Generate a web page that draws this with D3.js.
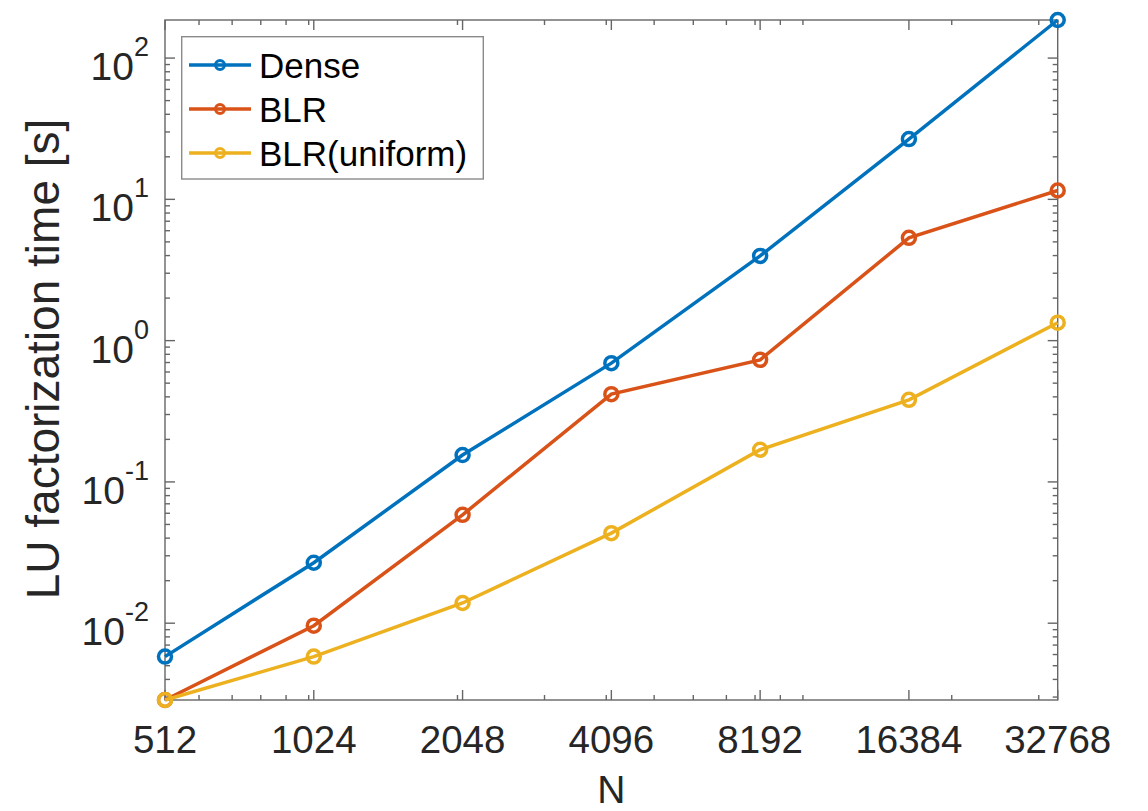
<!DOCTYPE html>
<html>
  <head>
    <script src="https://d3js.org/d3.v7.min.js"></script>
    <style>
      body {margin:0; background:white;}
      text {font-family: "Liberation Sans", Arial, Helvetica, sans-serif;}
    </style>
  </head>
  <body>
    <div id="chart1"></div>
    <script>
      // problem sizes
      var sizes = [512, 1024, 2048, 4096, 8192, 16384, 32768];
      // factorization times [s]
      var dense = [0.0058, 0.0268, 0.155, 0.693, 3.98, 26.7, 186];
      var blr = [0.00286, 0.0096, 0.0585, 0.418, 0.731, 5.34, 11.55];
      var blrUniform = [0.00286, 0.0058, 0.0139, 0.0434, 0.169, 0.381, 1.34];
      var seriesNames = ["Dense", "BLR", "BLR(uniform)"];
      var seriesColors = ["#0072BD", "#D95319", "#EDB120"];
      var yTickValues = [0.01, 0.1, 1, 10, 100];
      var yTickExponents = ["-2", "-1", "0", "1", "2"];

      var allSeries = [dense, blr, blrUniform];

      var W = 1148, H = 811;
      var plotLeft = 165, plotRight = 1057.7, plotTop = 20, plotBottom = 700;
      var axisColor = "#262626";
      var boxColor = "#666666";

      var svg = d3.select("#chart1")
        .append("svg")
          .attr("width", W)
          .attr("height", H)
          .attr("style", "background-color: white;");

      var x = d3.scaleLog().base(2)
        .domain(d3.extent(sizes))
        .range([plotLeft, plotRight]);

      var allValues = [].concat(dense, blr, blrUniform);
      var y = d3.scaleLog()
        .domain(d3.extent(allValues))
        .range([plotBottom, plotTop]);

      // minor ticks (n * 10^k inside the range)
      var xMinor = [];
      [100, 1000, 10000].forEach(function(p){
        for(var n = 1; n < 10; n++){
          var v = n * p;
          if(v > 512 && v < 32768) xMinor.push(v);
        }
      });
      var yMinor = [];
      [0.001, 0.01, 0.1, 1, 10, 100].forEach(function(p){
        for(var n = 2; n < 10; n++){
          var v = n * p;
          if(v > y.domain()[0] && v < y.domain()[1]) yMinor.push(v);
        }
      });

      // box
      svg.append("rect")
        .attr("x", plotLeft)
        .attr("y", plotTop)
        .attr("width", plotRight - plotLeft)
        .attr("height", plotBottom - plotTop)
        .attr("fill", "none")
        .attr("stroke", boxColor)
        .attr("stroke-width", 1.4);

      // ticks, all pointing inward, on all four sides
      var tickG = svg.append("g")
        .attr("stroke", boxColor)
        .attr("stroke-width", 1.4);
      function xTicks(vals, len){
        vals.forEach(function(v){
          tickG.append("line").attr("x1", x(v)).attr("x2", x(v)).attr("y1", plotBottom).attr("y2", plotBottom - len);
          tickG.append("line").attr("x1", x(v)).attr("x2", x(v)).attr("y1", plotTop).attr("y2", plotTop + len);
        });
      }
      function yTicks(vals, len){
        vals.forEach(function(v){
          tickG.append("line").attr("y1", y(v)).attr("y2", y(v)).attr("x1", plotLeft).attr("x2", plotLeft + len);
          tickG.append("line").attr("y1", y(v)).attr("y2", y(v)).attr("x1", plotRight).attr("x2", plotRight - len);
        });
      }
      xTicks(sizes, 10);
      xTicks(xMinor, 5);
      yTicks(yTickValues, 10);
      yTicks(yMinor, 5);

      // x tick labels
      svg.append("g")
        .selectAll("text")
        .data(sizes)
        .enter()
        .append("text")
          .attr("x", function(d){ return x(d); })
          .attr("y", 753)
          .attr("text-anchor", "middle")
          .attr("font-size", 38.5)
          .attr("fill", axisColor)
          .text(function(d){ return d; });

      // y tick labels as 10^k
      var yLab = svg.append("g")
        .selectAll("text")
        .data(yTickValues)
        .enter()
        .append("text")
          .attr("x", 149)
          .attr("y", function(d){ return y(d) + 22; })
          .attr("text-anchor", "end")
          .attr("font-size", 39)
          .attr("fill", axisColor);
      yLab.append("tspan").text("10");
      yLab.append("tspan")
        .attr("font-size", 27)
        .attr("dy", -24)
        .text(function(d, i){ return yTickExponents[i]; });

      // axis titles
      svg.append("text")
        .attr("x", (plotLeft + plotRight) / 2)
        .attr("y", 803)
        .attr("text-anchor", "middle")
        .attr("font-size", 39)
        .attr("fill", axisColor)
        .text("N");
      svg.append("text")
        .attr("transform", "translate(59,359) rotate(-90)")
        .attr("text-anchor", "middle")
        .attr("font-size", 46)
        .attr("fill", axisColor)
        .text("LU factorization time [s]");

      // series
      var line = d3.line()
        .x(function(d, i){ return x(sizes[i]); })
        .y(function(d){ return y(d); });
      for(var s = 0; s < allSeries.length; s++){
        var g = svg.append("g");
        g.append("path")
          .datum(allSeries[s])
          .attr("d", line)
          .attr("fill", "none")
          .attr("stroke", seriesColors[s])
          .attr("stroke-width", 3.5);
        g.selectAll("circle")
          .data(allSeries[s])
          .enter()
          .append("circle")
            .attr("cx", function(d, i){ return x(sizes[i]); })
            .attr("cy", function(d){ return y(d); })
            .attr("r", 6.5)
            .attr("fill", "none")
            .attr("stroke", seriesColors[s])
            .attr("stroke-width", 3.5);
      }

      // legend
      var legend = svg.append("g");
      legend.append("rect")
        .attr("x", 181.7)
        .attr("y", 36.7)
        .attr("width", 301.6)
        .attr("height", 142.3)
        .attr("fill", "white")
        .attr("stroke", "#8a8a8a")
        .attr("stroke-width", 1.4);
      var rowY = [65, 109, 153];
      seriesNames.forEach(function(name, i){
        legend.append("line")
          .attr("x1", 189).attr("x2", 251)
          .attr("y1", rowY[i]).attr("y2", rowY[i])
          .attr("stroke", seriesColors[i])
          .attr("stroke-width", 3.5);
        legend.append("circle")
          .attr("cx", 220).attr("cy", rowY[i])
          .attr("r", 4.5)
          .attr("fill", "none")
          .attr("stroke", seriesColors[i])
          .attr("stroke-width", 3);
        legend.append("text")
          .attr("x", 259)
          .attr("y", rowY[i])
          .attr("dy", "0.36em")
          .attr("font-size", 35)
          .attr("fill", "black")
          .text(name);
      });
    </script>
  </body>
</html>
